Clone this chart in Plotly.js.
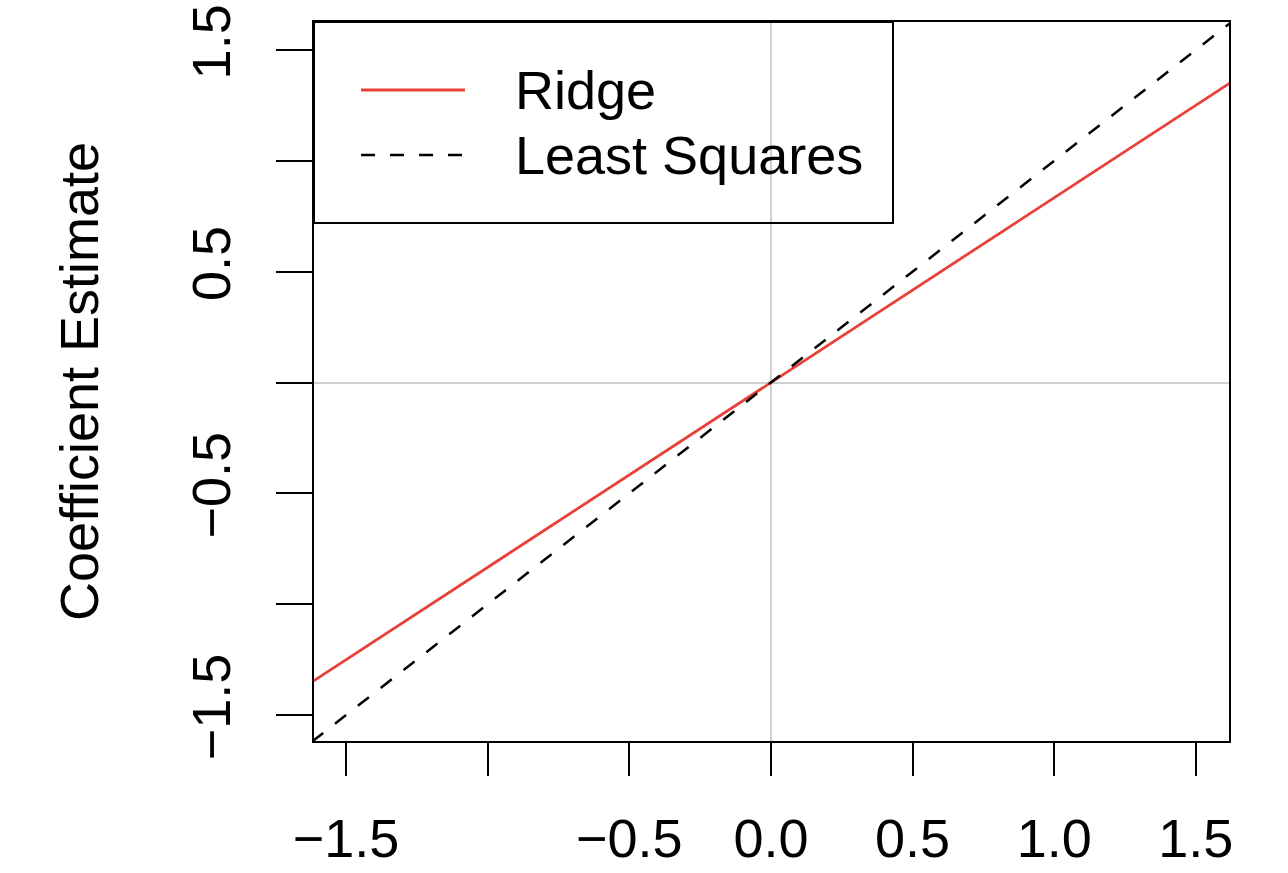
<!DOCTYPE html>
<html>
<head>
<meta charset="utf-8">
<script src="https://cdn.plot.ly/plotly-3.0.1.min.js"></script>
<style>html,body{margin:0;padding:0;background:#fff;}#chart{width:1288px;height:873px;}</style>
</head>
<body>
<div id="chart"></div>
<script>
// Data
const yj = [-1.7, -1.0, 0.0, 1.0, 1.7];            // x: y_j
const leastSquares = [-1.7, -1.0, 0.0, 1.0, 1.7];  // least squares estimate
const ridge = [-1.417, -0.833, 0.0, 0.833, 1.417]; // ridge estimate
const seriesNames = ["Ridge", "Least Squares"];
const xTickVals = [-1.5, -1.0, -0.5, 0.0, 0.5, 1.0, 1.5];
const xTickText = ["\u22121.5", "", "\u22120.5", "0.0", "0.5", "1.0", "1.5"];
const yTickVals = [-1.5, -1.0, -0.5, 0.0, 0.5, 1.0, 1.5];
const yTickText = ["\u22121.5", "", "\u22120.5", "", "0.5", "", "1.5"];

const FONT = "Liberation Sans, Arial, Helvetica, sans-serif";
const RED = "#e8413a";

const traces = [
  {x: yj, y: ridge, mode: "lines", name: seriesNames[0], showlegend: false,
   line: {color: RED, width: 2.8}},
  {x: yj, y: leastSquares, mode: "lines", name: seriesNames[1], showlegend: false,
   line: {color: "#000", width: 2.5, dash: "14px,15px"}}
];

// Manual legend (paper coords) to reproduce R-style legend box
const lg = {x0: 0, x1: 0.6328, y0: 0.7204, y1: 1};
const shapes = [
  {type: "rect", xref: "paper", yref: "paper", x0: lg.x0, x1: lg.x1, y0: lg.y0, y1: lg.y1,
   line: {color: "#000", width: 2}, fillcolor: "rgba(0,0,0,0)", layer: "above"},
  {type: "line", xref: "paper", yref: "paper", x0: 0.0514, x1: 0.165, y0: 0.9054, y1: 0.9054,
   line: {color: RED, width: 2.8}, layer: "above"},
  {type: "line", xref: "paper", yref: "paper", x0: 0.0514, x1: 0.165, y0: 0.815, y1: 0.815,
   line: {color: "#000", width: 2.5, dash: "14px,15px"}, layer: "above"}
];
const annotations = [
  {xref: "paper", yref: "paper", x: 0.2175, y: 0.9054, xanchor: "left", yanchor: "middle",
   text: seriesNames[0], showarrow: false, font: {family: FONT, size: 54, color: "#000"}},
  {xref: "paper", yref: "paper", x: 0.2175, y: 0.815, xanchor: "left", yanchor: "middle",
   text: seriesNames[1], showarrow: false, font: {family: FONT, size: 54, color: "#000"}}
];

const layout = {
  width: 1288, height: 873,
  margin: {l: 314, r: 59, t: 22, b: 132},
  paper_bgcolor: "#fff", plot_bgcolor: "#fff",
  font: {family: FONT, size: 54, color: "#000"},
  showlegend: false,
  xaxis: {
    range: [-1.613, 1.617], tickmode: "array", tickvals: xTickVals, ticktext: xTickText,
    ticks: "outside", ticklen: 33, tickwidth: 2, tickcolor: "#000",
    showline: true, mirror: true, linewidth: 2, linecolor: "#000",
    showgrid: false, zeroline: true, zerolinecolor: "#cfcfcf", zerolinewidth: 2,
    tickfont: {family: FONT, size: 54, color: "#000"}, ticklabelstandoff: 16,
    automargin: false
  },
  yaxis: {
    range: [-1.617, 1.626], tickmode: "array", tickvals: yTickVals, ticktext: yTickText,
    tickangle: -90,
    ticks: "outside", ticklen: 36, tickwidth: 2, tickcolor: "#000",
    showline: true, mirror: true, linewidth: 2, linecolor: "#000",
    showgrid: false, zeroline: true, zerolinecolor: "#cfcfcf", zerolinewidth: 2,
    tickfont: {family: FONT, size: 54, color: "#000"}, ticklabelstandoff: 24,
    title: {text: "Coefficient Estimate", font: {family: FONT, size: 54, color: "#000"}, standoff: 66},
    automargin: false
  },
  shapes: shapes,
  annotations: annotations
};

Plotly.newPlot("chart", traces, layout, {displayModeBar: false, staticPlot: true});
</script>
</body>
</html>
